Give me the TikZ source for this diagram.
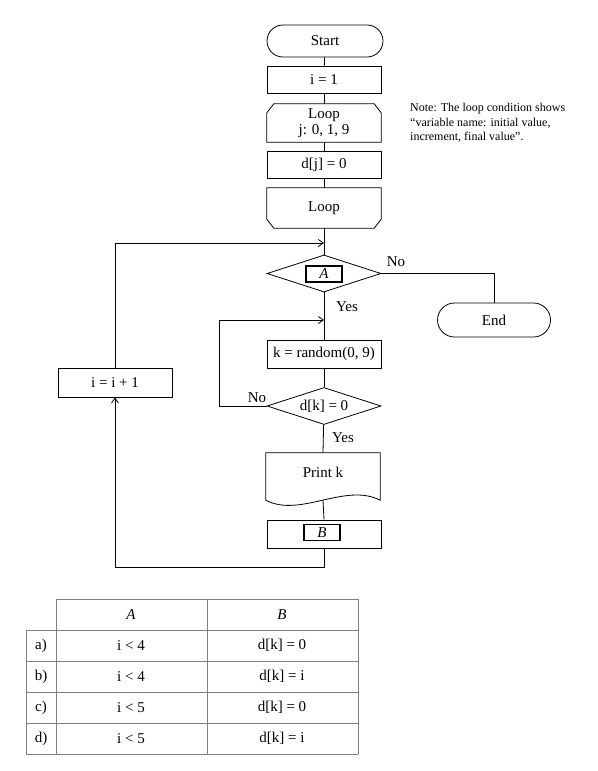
\documentclass[tikz,border=0pt]{standalone}
\usepackage{fontspec}
\setmainfont{Liberation Serif}
\usetikzlibrary{shapes.geometric,shapes.misc,arrows.meta}
\begin{document}
\begin{tikzpicture}[x=1pt,y=-1pt,
 every node/.style={font=\fontsize{15}{17}\selectfont},
 line/.style={line width=0.8pt},
 arr/.style={line width=0.8pt,-{Straight Barb[length=5pt,width=7pt]}},
 proc/.style={draw,line width=0.8pt,minimum width=114pt,minimum height=28pt,inner sep=0pt},
 term/.style={draw,line width=0.8pt,rounded rectangle,minimum width=116pt,minimum height=32pt,inner sep=0pt},
 blank/.style={minimum width=114pt,inner sep=0pt},
 dec/.style={draw,line width=0.8pt,diamond,aspect=3.08,minimum width=114pt,minimum height=37pt,inner sep=0pt},
 slot/.style={draw,line width=1.8pt,minimum width=36pt,minimum height=16pt,inner sep=0pt,font=\fontsize{15}{17}\selectfont\itshape},
 lbl/.style={inner sep=0pt},
 grid/.style={draw=gray,line width=0.8pt}
]
\useasboundingbox (0,0) rectangle (597,771);

% nodes
\node[term] (start) at (325,41) {Start};
\node[proc,minimum height=27pt] (i1) at (324,79.5) {i = 1};
\node[blank,minimum height=38pt,align=center,font=\fontsize{15}{16}\selectfont] (l1) at (324,123) {Loop\\j: 0, 1, 9};
\node[proc,minimum height=27pt] (dj) at (324,164.5) {d[j] = 0};
\node[blank,minimum height=40pt] (l2) at (324,208) {Loop};
\node[dec] (da) at (324,273.5) {};
\node[slot] (sa) at (324,274) {A};
\node[term,minimum width=113pt,minimum height=34pt] (end) at (494,320) {End};
\node[proc] (k) at (324,354) {k = random(0, 9)};
\node[dec] (dk) at (324,406) {d[k] = 0};
\node[blank,minimum height=47pt] (pk) at (323,476.5) {};
\node[lbl] (pkt) at (323,472) {Print k};
\node[proc] (b) at (324,534) {};
\node[slot] (sb) at (322,532.5) {B};
\node[proc,minimum height=29pt] (inc) at (115,382.5) {i = i + 1};

% special shapes
\draw[line] ([xshift=7pt]l1.north west) -- ([xshift=-7pt]l1.north east) -- ([yshift=-9pt]l1.north east) -- (l1.south east) -- (l1.south west) -- ([yshift=-9pt]l1.north west) -- cycle;
\draw[line] (l2.north west) -- (l2.north east) -- ([yshift=9pt]l2.south east) -- ([xshift=-7pt]l2.south east) -- ([xshift=7pt]l2.south west) -- ([yshift=9pt]l2.south west) -- cycle;
\draw[line] (pk.south west) .. controls +(34,18) and +(-35,-18) .. (pk.south east) -- (pk.north east) -- (pk.north west) -- cycle;

% connectors
\draw[line] (start) -- (i1);
\draw[line] (i1) -- (l1);
\draw[line] (l1) -- (dj);
\draw[line] (dj) -- (l2);
\draw[line] (l2) -- (da);
\coordinate (m1) at (324,243);
\draw[arr] (inc.north) |- (m1);
\draw[line] (da.east) -| (end.north);
\draw[line] (da) -- (k);
\coordinate (m2) at (324,320);
\draw[arr] (dk.west) -- ++(-47,0) |- (m2);
\draw[line] (k) -- (dk);
\draw[line] (dk) -- (pk.north);
\draw[line] (pk.south) -- (b.north);
\draw[arr] (b.south) -- ++(0,19) -| (inc.south);

% labels
\node[lbl] (no1) at (396,262) {No};
\node[lbl] (yes1) at (347,307) {Yes};
\node[lbl] (no2) at (257,398) {No};
\node[lbl] (yes2) at (343,438) {Yes};

\node[lbl,anchor=north west,align=left,font=\fontsize{12}{14.5}\selectfont] (note) at (410,103) {Note: The loop condition shows\\“variable name: initial value,\\increment, final value”.};

% table
\draw[grid] (56,599) -- (358,599);
\foreach \yy in {630,661,692,723,754} \draw[grid] (26,\yy) -- (358,\yy);
\draw[grid] (26,630) -- (26,754);
\draw[grid] (56,599) -- (56,754);
\draw[grid] (207,599) -- (207,754);
\draw[grid] (358,599) -- (358,754);
\node[lbl,font=\fontsize{15}{17}\selectfont\itshape] (ha) at (131,615) {A};
\node[lbl,font=\fontsize{15}{17}\selectfont\itshape] (hb) at (282,615) {B};
\node[lbl] (ra) at (41,645.5) {a)};
\node[lbl] (rb) at (41,676.5) {b)};
\node[lbl] (rc) at (41,707.5) {c)};
\node[lbl] (rd) at (41,738.5) {d)};
\node[lbl] (a1) at (131,645.5) {i < 4};
\node[lbl] (a2) at (131,676.5) {i < 4};
\node[lbl] (a3) at (131,707.5) {i < 5};
\node[lbl] (a4) at (131,738.5) {i < 5};
\node[lbl] (b1) at (282,645.5) {d[k] = 0};
\node[lbl] (b2) at (282,676.5) {d[k] = i};
\node[lbl] (b3) at (282,707.5) {d[k] = 0};
\node[lbl] (b4) at (282,738.5) {d[k] = i};
\end{tikzpicture}
\end{document}
